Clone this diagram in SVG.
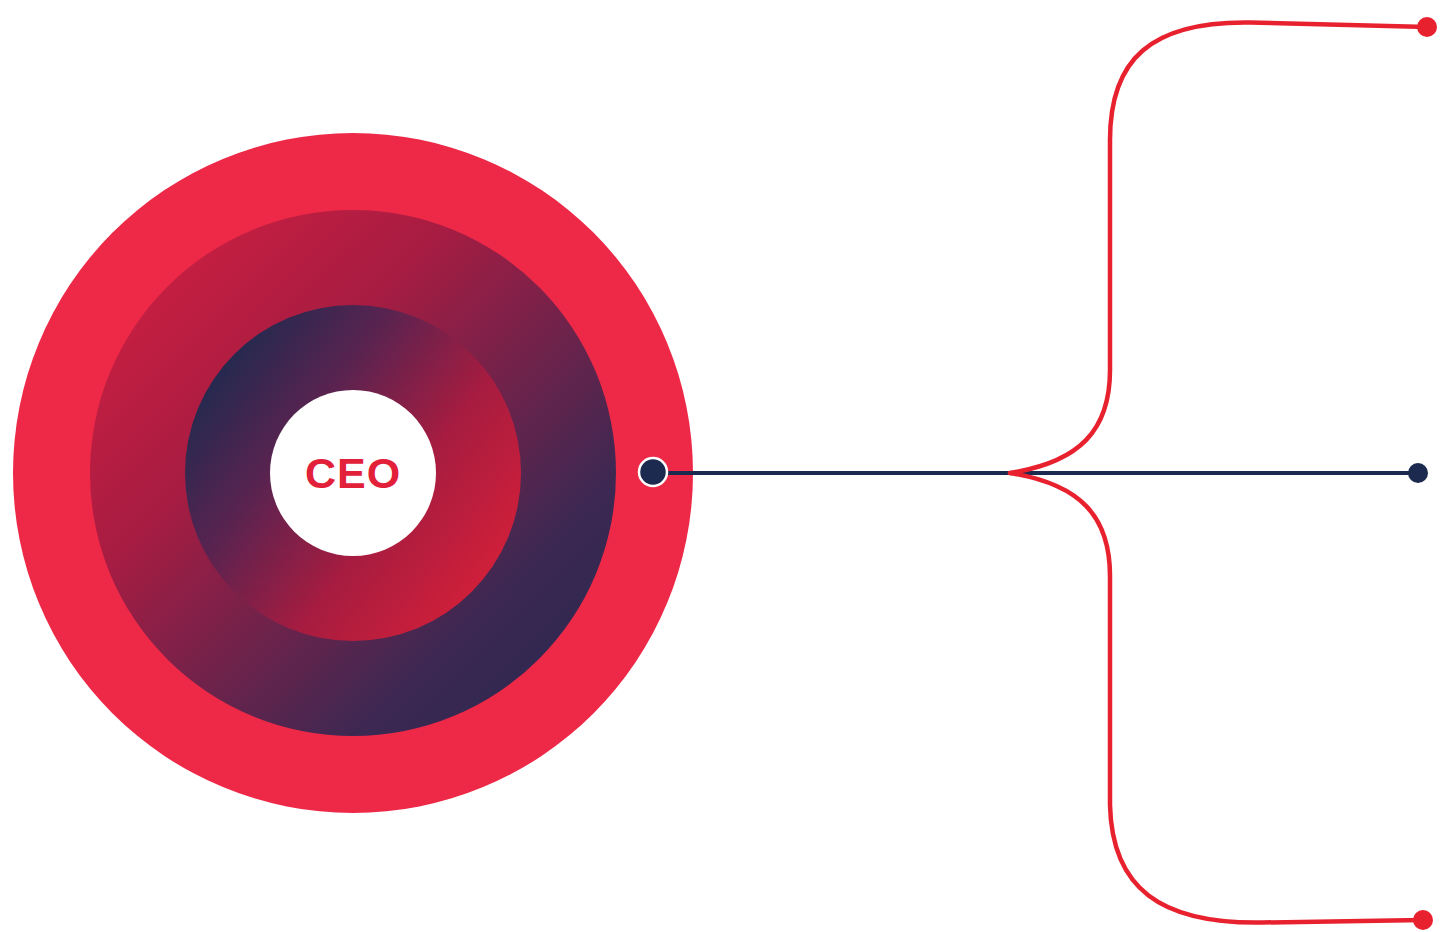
<svg xmlns="http://www.w3.org/2000/svg" width="1448" height="932" viewBox="0 0 1448 932">
  <defs>
    <linearGradient id="gRing" x1="0" y1="0" x2="1" y2="1">
      <stop offset="0" stop-color="#d62040"/>
      <stop offset="0.35" stop-color="#a81c42"/>
      <stop offset="0.75" stop-color="#3d2852"/>
      <stop offset="1" stop-color="#24284f"/>
    </linearGradient>
    <linearGradient id="gInner" x1="0.1" y1="0.2" x2="0.9" y2="0.8">
      <stop offset="0" stop-color="#26294f"/>
      <stop offset="0.3" stop-color="#5a2350"/>
      <stop offset="0.65" stop-color="#a61c40"/>
      <stop offset="1" stop-color="#cf1f3a"/>
    </linearGradient>
    <style>
      .red-line { fill: none; stroke: #e8212f; stroke-width: 4.5; stroke-linecap: round; }
      .navy-line { fill: none; stroke: #1b2a4e; stroke-width: 4; }
      .red-dot { fill: #e8212f; }
      .navy-dot { fill: #1b2a4e; }
    </style>
  </defs>
  <rect width="1448" height="932" fill="#ffffff"/>
  <g id="ceo">
    <circle cx="353" cy="473" r="340" fill="#ee2847"/>
    <circle cx="353" cy="473" r="263" fill="url(#gRing)"/>
    <circle cx="353" cy="473" r="168" fill="url(#gInner)"/>
    <circle cx="353" cy="473" r="83" fill="#ffffff"/>
    <text x="353" y="488" text-anchor="middle" font-family="'Liberation Sans', Arial, sans-serif" font-weight="bold" font-size="43" letter-spacing="1" fill="#e3203a">CEO</text>
  </g>
  <g id="connectors">
    <line class="navy-line" x1="653" y1="473" x2="1418" y2="473"/>
    <path class="red-line" d="M1010,473 C1080,462 1110,430 1110,370 L1110,140 C1110,60 1150,21 1250,22.5 L1427,27"/>
    <path class="red-line" d="M1010,473 C1080,484 1110,516 1110,576 L1110,805 C1112,888 1160,924 1262,922.5 L1423,920"/>
  </g>
  <g id="source-dot">
    <circle cx="653" cy="472" r="14" fill="#1b2a4e" stroke="#ffffff" stroke-width="2.5"/>
  </g>
  <g id="end-top">
    <circle class="red-dot" cx="1427" cy="27" r="10"/>
  </g>
  <g id="end-mid">
    <circle class="navy-dot" cx="1418" cy="473" r="10"/>
  </g>
  <g id="end-bottom">
    <circle class="red-dot" cx="1423" cy="920" r="10"/>
  </g>
</svg>
